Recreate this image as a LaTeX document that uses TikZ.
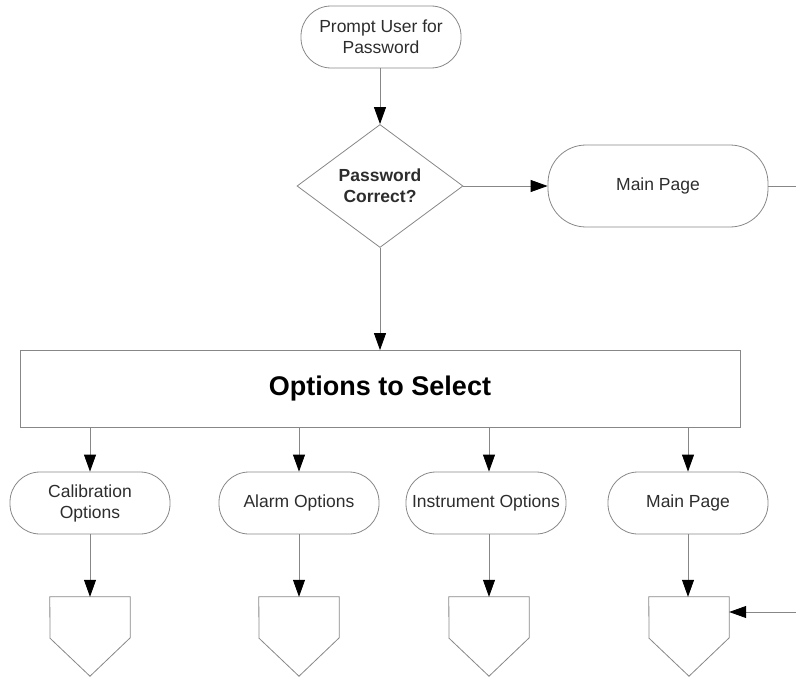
\documentclass[tikz,border=0pt]{standalone}
\usepackage{fontspec}
\setmainfont{Liberation Sans}
\usetikzlibrary{shapes.geometric,arrows.meta}
\definecolor{edgegray}{RGB}{135,135,135}
\definecolor{txtgray}{RGB}{45,45,45}
\begin{document}
\begin{tikzpicture}[x=1pt,y=-1pt,
  every node/.style={font=\fontsize{17.5}{21}\selectfont, text=txtgray},
  pill/.style={draw=edgegray, line width=0.8pt, rounded corners=30pt,
    minimum width=160pt, minimum height=62pt, inner sep=0pt, align=center},
  bigpill/.style={pill, rounded corners=38pt, minimum width=220pt, minimum height=82pt},
  decide/.style={diamond, draw=edgegray, line width=0.8pt, minimum width=166pt,
    minimum height=123pt, inner sep=0pt, align=center, font=\fontsize{17.5}{21}\selectfont\bfseries},
  optbox/.style={draw=edgegray, line width=0.8pt, minimum width=720pt, minimum height=77pt,
    inner sep=0pt, text=black, font=\fontsize{27}{31}\selectfont\bfseries},
  ocbox/.style={minimum width=80pt, minimum height=79pt, inner sep=0pt},
  shapeline/.style={draw=edgegray, line width=0.8pt},
  conn/.style={draw=edgegray, line width=0.8pt, -{Triangle[length=17pt,width=12pt,fill=black,color=black]}},
  plain/.style={draw=edgegray, line width=0.8pt}]
\useasboundingbox (0,0) rectangle (796,677);

\node[pill] (prompt) at (381,37) {Prompt User for\\Password};
\node[decide] (pw) at (380,186) {Password\\Correct?};
\node[bigpill] (main) at (658,186) {Main Page};
\coordinate (r1) at (796,186);
\node[optbox] (opt) at (380,389) {Options to Select};

\node[pill] (cal) at (90,503) {Calibration\\Options};
\node[pill] (alarm) at (299,503) {Alarm Options};
\node[pill] (instr) at (486,503) {Instrument Options};
\node[pill] (mainb) at (688,503) {Main Page};

\node[ocbox] (oc1) at (90,636.5) {};
\node[ocbox] (oc2) at (299,636.5) {};
\node[ocbox] (oc3) at (489,636.5) {};
\node[ocbox] (oc4) at (689,636.5) {};
\foreach \o in {oc1,oc2,oc3,oc4}{
  \draw[shapeline] (\o.north west) -- (\o.north east) -- ++(0,41) -- (\o.south) -- ++(-40,-38) -- cycle;
}
\coordinate (r2) at (796,612);

\draw[conn] (prompt.south -| pw.north) -- (pw.north);
\draw[conn] (pw.east) -- (main.west);
\draw[plain] (main.east) -- (r1);
\draw[conn] (pw.south) -- (opt.north -| pw.south);

\draw[conn] (opt.south -| cal.north) -- (cal.north);
\draw[conn] (opt.south -| alarm.north) -- (alarm.north);
\draw[conn] (opt.south -| oc3.north) -- (oc3.north |- instr.north);
\draw[conn] (opt.south -| mainb.north) -- (mainb.north);

\draw[conn] (cal.south) -- (oc1.north);
\draw[conn] (alarm.south) -- (oc2.north);
\draw[conn] (instr.south -| oc3.north) -- (oc3.north);
\draw[conn] (mainb.south) -- (mainb.south |- oc4.north);
\draw[conn] (r2) -- (r2 -| oc4.east);
\end{tikzpicture}
\end{document}
